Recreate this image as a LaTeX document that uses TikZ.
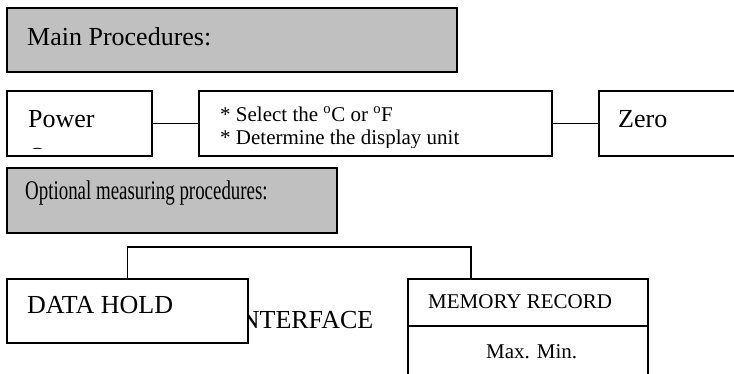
\documentclass[tikz,border=0pt]{standalone}
\usepackage{graphicx}
\usepackage{fontspec}
\setmainfont{Liberation Serif}
\definecolor{boxgray}{HTML}{C0C0C0}
\tikzset{
	headbox/.style={draw, line width=1.5pt, fill=boxgray, anchor=north west, inner sep=0pt},
	stagebox/.style={draw, line width=1.5pt, fill=white, anchor=north west, inner sep=0pt},
	bigtext/.style={anchor=base west, inner sep=0pt, font=\fontsize{26}{30}\selectfont},
	smalltext/.style={anchor=base west, inner sep=0pt, font=\fontsize{21}{22}\selectfont},
	link/.style={line width=1.5pt}
}

\begin{document}
\begin{tikzpicture}[x=1pt,y=-1pt]

\clip (0,0) rectangle (734,373);
\fill[white] (0,0) rectangle (734,373);

% Main procedures heading
\node[headbox, minimum width=450pt, minimum height=64pt] (main) at (6,7) {};
\node[bigtext] (maintext) at (27,45) {Main Procedures:};

% Power on
\node[stagebox, minimum width=145pt, minimum height=65pt] (power) at (6,90) {};
\begin{scope}
\clip (power.north west) rectangle ([yshift=8pt]power.south east);
\node[bigtext] (powertext) at (28,127) {Power};
\node[bigtext] (ontext) at (28,165) {On};
\end{scope}

% Unit selection
\node[stagebox, minimum width=353pt, minimum height=65pt] (select) at (198,90) {};
\begin{scope}
\clip (select.north west) rectangle ([yshift=9pt]select.south east);
\node[smalltext] (selecttext) at (220,121) {* Select the \textsuperscript{o}C or \textsuperscript{o}F};
\node[smalltext] (unittext) at (220,144) {* Determine the display unit};
\end{scope}

% Zero
\node[stagebox, minimum width=160pt, minimum height=65pt] (zero) at (598,90) {};
\node[bigtext] (zerotext) at (618,127) {Zero};

% Main chain
\draw[link] (power.east) -- (select.west);
\draw[link] (select.east) -- (zero.west);

% Optional procedures heading
\node[headbox, minimum width=330pt, minimum height=65pt] (optional) at (6,167) {};
\node[bigtext] (optionaltext) at (25,199) {\scalebox{0.7}[1]{\fontsize{27}{30}\selectfont Optional measuring procedures:}};

% Interface (partly covered)
\node[bigtext] (iface) at (232,328) {INTERFACE};

% Data hold
\node[stagebox, minimum width=241pt, minimum height=64pt] (hold) at (6,278) {};
\node[bigtext] (holdtext) at (27,313) {DATA HOLD};

% Memory record
\node[stagebox, minimum width=240pt, minimum height=130pt] (memory) at (407,278) {};
\draw[link] ([yshift=-48pt]memory.north west) -- ([yshift=-48pt]memory.north east);
\node[smalltext] (memtext) at (428,308) {MEMORY RECORD};
\node[smalltext] (maxmin) at (486,358) {Max. Min.};

% Optional branches
\draw[link] (hold.north) -- ++(0,-31) -| ([xshift=-57pt]memory.north);

\end{tikzpicture}
\end{document}
